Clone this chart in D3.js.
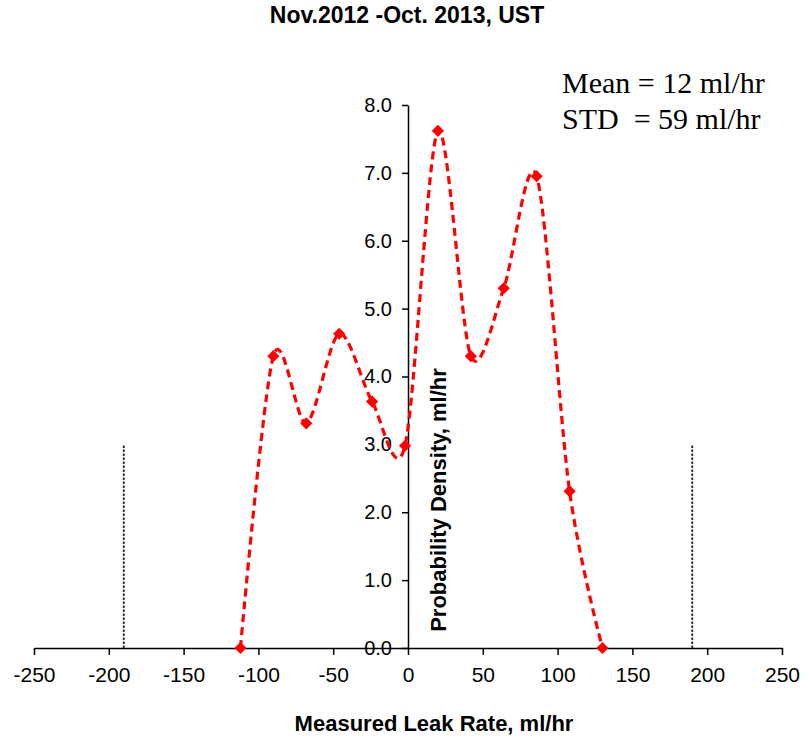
<!DOCTYPE html>
<html>
<head>
<meta charset="utf-8">
<script src="https://cdnjs.cloudflare.com/ajax/libs/d3/7.8.5/d3.min.js"></script>
<style>
  body { margin: 0; background: #fff; }
</style>
</head>
<body>
<div id="chart"></div>
<script>
// leak rate (ml/hr) vs probability density
var leakRates = [-112, -90, -68, -46, -24, -2, 20, 42, 64, 86, 108, 130]
var densities = [0.0, 4.30, 3.31, 4.63, 3.63, 2.98, 7.62, 4.30, 5.30, 6.95, 2.31, 0.0]
var limitLines = [-190, 190]   // dotted marker lines
var limitHeight = 3.0
var xTicks = [-250, -200, -150, -100, -50, 0, 50, 100, 150, 200, 250]
var yTicks = [0, 1, 2, 3, 4, 5, 6, 7, 8]
var stats = ["Mean = 12 ml/hr", "STD  = 59 ml/hr"]

var width = 809, height = 740
var sans = "Liberation Sans, Arial, sans-serif"

var svg = d3.select("#chart").append("svg")
    .attr("width", width).attr("height", height)

var x = d3.scaleLinear().domain([-250, 250]).range([34, 782])
var y = d3.scaleLinear().domain([0, 8]).range([648, 105])

// x axis
var xAxis = svg.append("g")
    .attr("transform", "translate(0," + y(0) + ")")
    .call(d3.axisBottom(x).tickValues(xTicks).tickSize(7).tickSizeOuter(0)
        .tickFormat(function(d){return String(d)}))
xAxis.select(".domain").attr("stroke", "#000").attr("stroke-width", 1.5)
xAxis.selectAll(".tick line").attr("stroke", "#000").attr("stroke-width", 1.5)
xAxis.selectAll(".tick text")
    .attr("font-size", 21).attr("fill", "#000")
    .attr("font-family", sans)
    .attr("dy", null).attr("y", 34)

// y axis at x = 0
var yAxis = svg.append("g")
    .attr("transform", "translate(" + x(0) + ",0)")
    .call(d3.axisLeft(y).tickValues(yTicks).tickSize(6).tickSizeOuter(0)
        .tickFormat(d3.format(".1f")))
yAxis.select(".domain").attr("stroke", "#000").attr("stroke-width", 1.5)
yAxis.selectAll(".tick line").attr("stroke", "#000").attr("stroke-width", 1.5)
yAxis.selectAll(".tick text")
    .attr("font-size", 20).attr("fill", "#000")
    .attr("font-family", sans)
    .attr("x", -16)

// dotted limit lines
svg.selectAll(".limit")
    .data(limitLines)
    .enter()
    .append("line")
    .attr("class", "limit")
    .attr("x1", function(d){return x(d)})
    .attr("x2", function(d){return x(d)})
    .attr("y1", y(0))
    .attr("y2", y(limitHeight))
    .attr("stroke", "#222")
    .attr("stroke-width", 1.8)
    .attr("stroke-dasharray", "2.5,1.5")

var points = leakRates.map(function(d, i){return [d, densities[i]]})

var line = d3.line()
    .x(function(d){return x(d[0])})
    .y(function(d){return y(d[1])})
    .curve(d3.curveCardinal.tension(0.1))

svg.append("path")
    .datum(points)
    .attr("d", line)
    .attr("fill", "none")
    .attr("stroke", "#ff0000")
    .attr("stroke-width", 3.2)
    .attr("stroke-dasharray", "8,5")

svg.selectAll(".pt")
    .data(points)
    .enter()
    .append("path")
    .attr("class", "pt")
    .attr("d", d3.symbol().type(d3.symbolDiamond2).size(95))
    .attr("transform", function(d){return "translate(" + x(d[0]) + "," + y(d[1]) + ")"})
    .attr("fill", "#ff0000")

// titles
svg.append("text")
    .attr("x", 407).attr("y", 23)
    .attr("text-anchor", "middle")
    .attr("font-family", sans)
    .attr("font-size", 23).attr("font-weight", "bold")
    .text("Nov.2012 -Oct. 2013, UST")

svg.append("text")
    .attr("x", 434).attr("y", 731)
    .attr("text-anchor", "middle")
    .attr("font-family", sans)
    .attr("font-size", 22).attr("font-weight", "bold")
    .text("Measured Leak Rate, ml/hr")

svg.append("text")
    .attr("transform", "translate(446,500) rotate(-90)")
    .attr("text-anchor", "middle")
    .attr("font-family", sans)
    .attr("font-size", 22).attr("font-weight", "bold")
    .text("Probability Density, ml/hr")

// stats box
svg.selectAll(".stat")
    .data(stats)
    .enter()
    .append("text")
    .attr("class", "stat")
    .attr("x", 562)
    .attr("y", function(d, i){return 93 + i*36})
    .attr("font-family", "Liberation Serif, Times New Roman, serif")
    .attr("font-size", 30)
    .style("white-space", "pre")
    .text(function(d){return d})
</script>
</body>
</html>
